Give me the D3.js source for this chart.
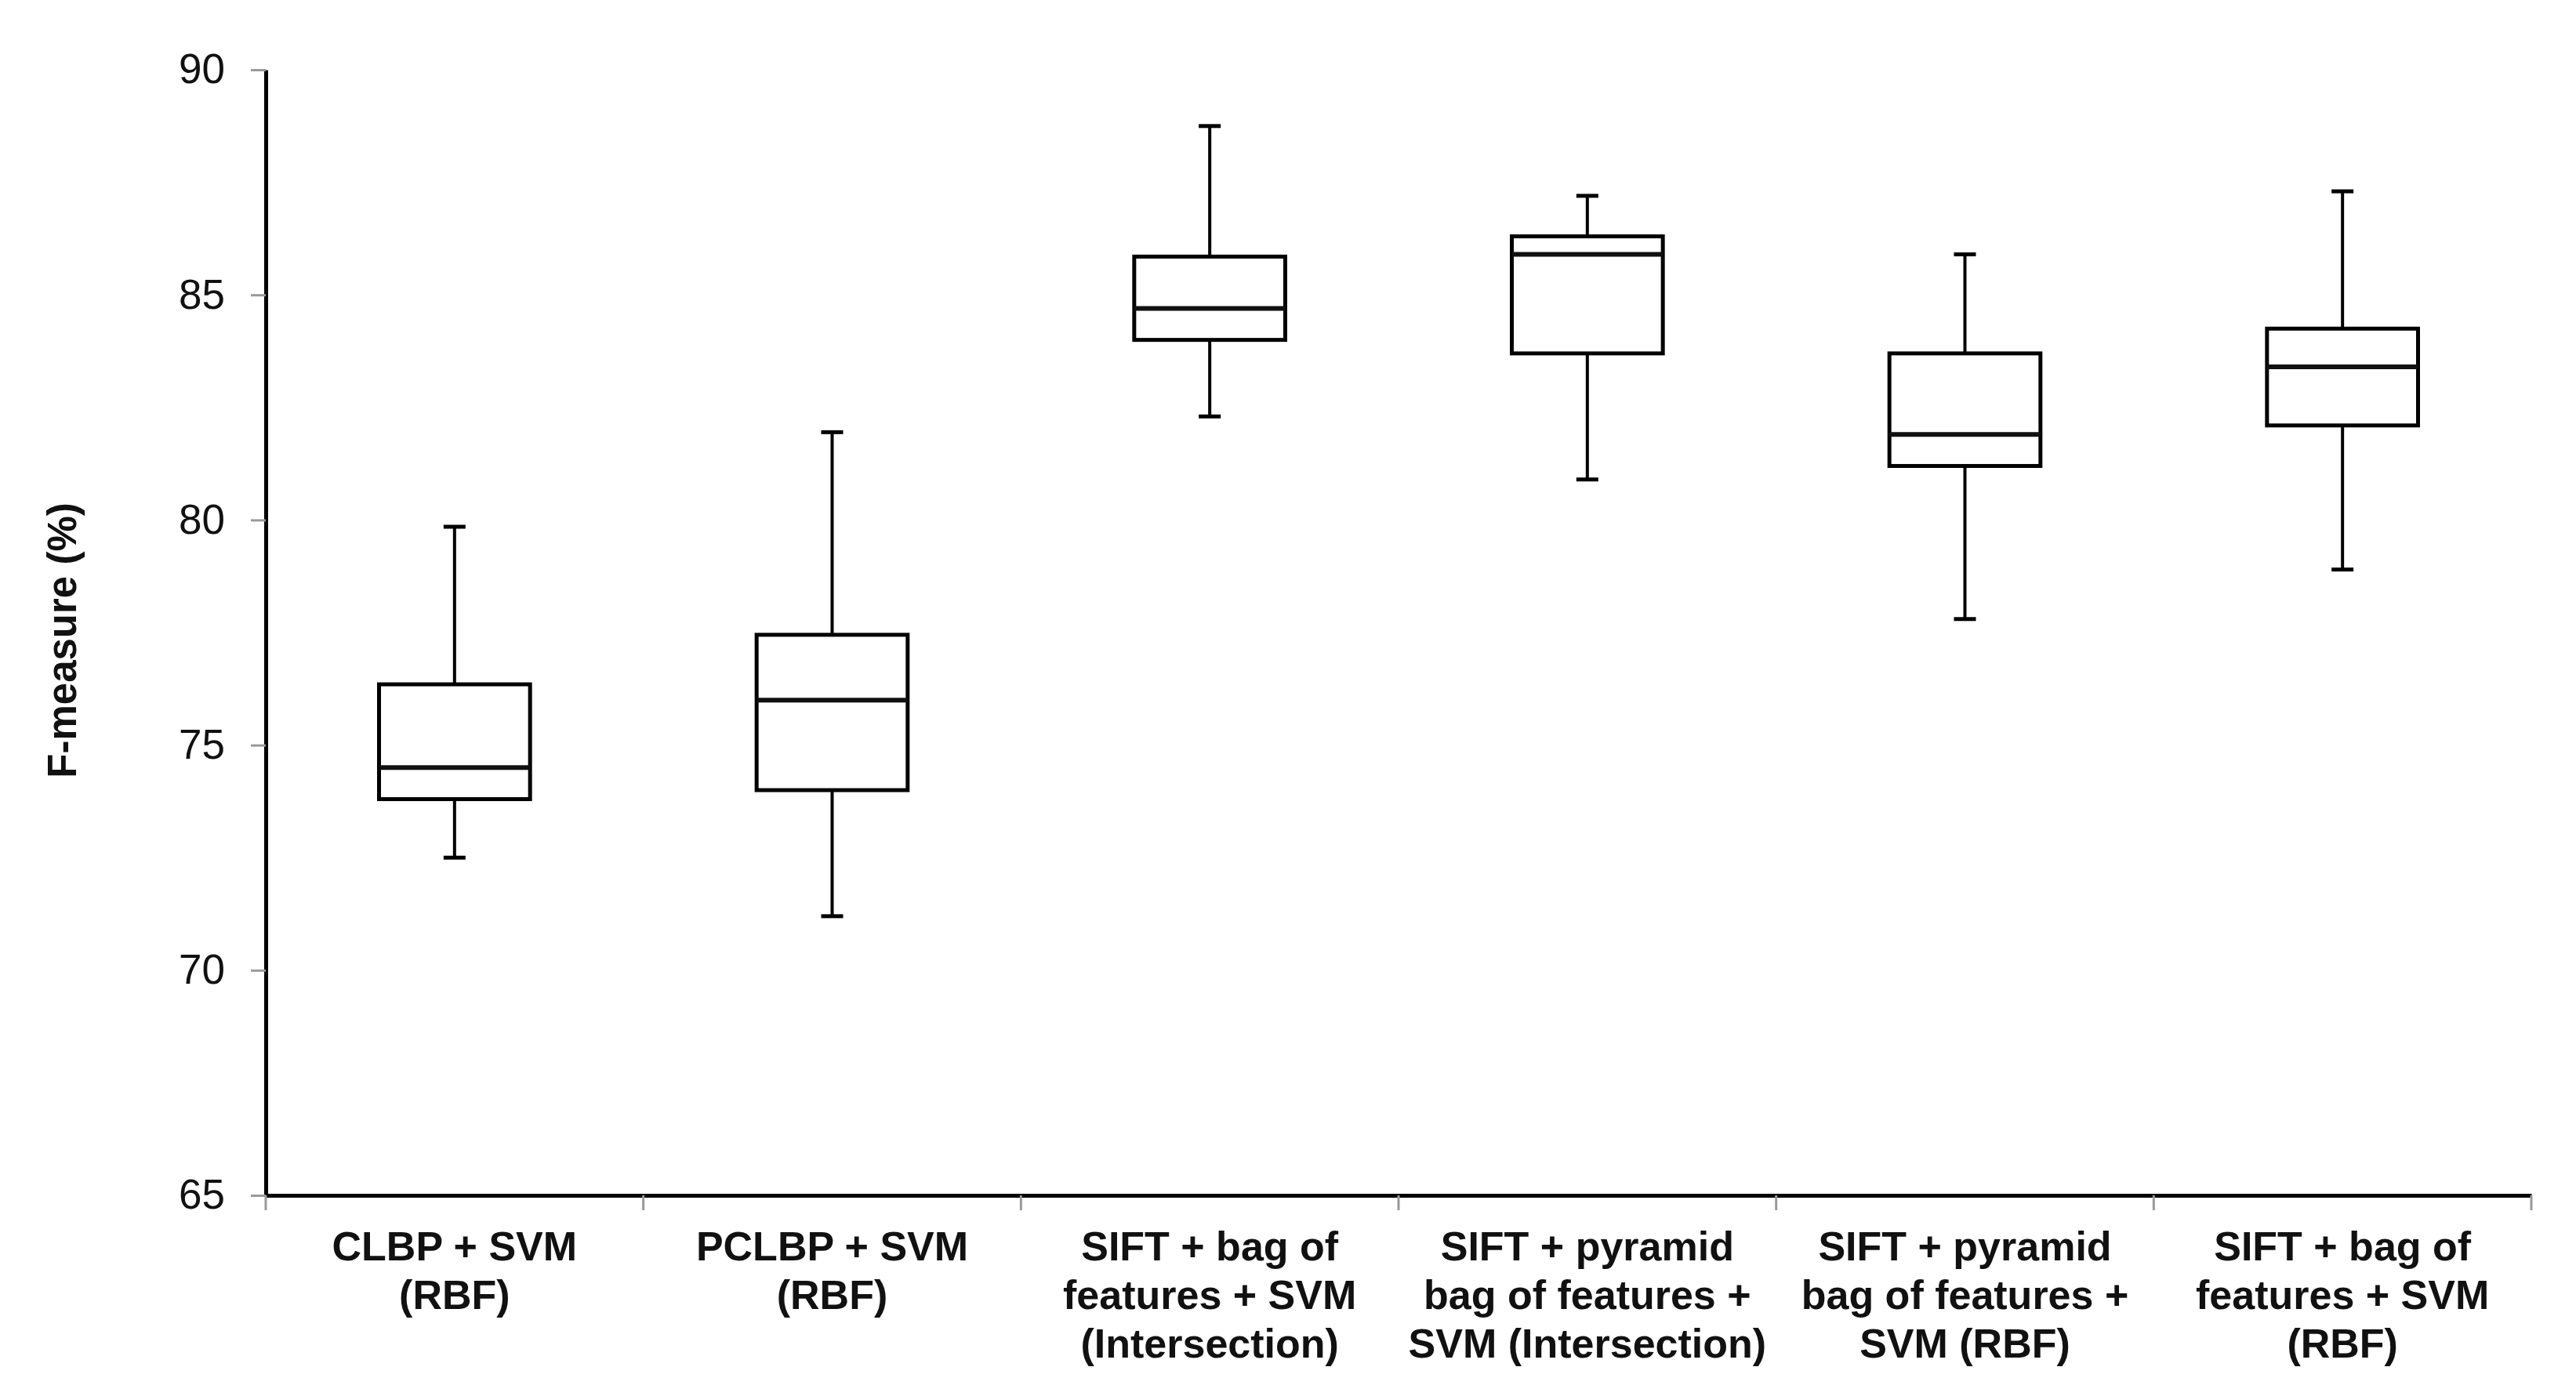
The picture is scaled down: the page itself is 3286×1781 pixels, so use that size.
<!DOCTYPE html>
<html>
<head>
<meta charset="utf-8">
<script src="https://cdn.jsdelivr.net/npm/d3@7"></script>
<style>
  html, body { margin: 0; padding: 0; background: #fff; }
  text { font-family: "Liberation Sans", Arial, sans-serif; fill: #111; }
</style>
</head>
<body>
<div id="chart"></div>
<script>
// categories with their label lines
const categories = ["c1", "c2", "c3", "c4", "c5", "c6"];
const labelLines = [
    ["CLBP + SVM", "(RBF)"],
    ["PCLBP + SVM", "(RBF)"],
    ["SIFT + bag of", "features + SVM", "(Intersection)"],
    ["SIFT + pyramid", "bag of features +", "SVM (Intersection)"],
    ["SIFT + pyramid", "bag of features +", "SVM (RBF)"],
    ["SIFT + bag of", "features + SVM", "(RBF)"]
];

// box statistics
const whiskerLow  = [72.5, 71.2, 82.3, 80.9, 77.8, 78.9];
const q1          = [73.8, 74.0, 84.0, 83.7, 81.2, 82.1];
const median      = [74.5, 76.0, 84.7, 85.9, 81.9, 83.4];
const q3          = [76.35, 77.45, 85.85, 86.3, 83.7, 84.25];
const whiskerHigh = [79.85, 81.95, 88.75, 87.2, 85.9, 87.3];

const yTicks = [65, 70, 75, 80, 85, 90];

const width = 3286, height = 1781;
const margin = { top: 89, right: 57, bottom: 256, left: 339 };

const svg = d3.select("#chart").append("svg")
    .attr("width", width)
    .attr("height", height);

const x = d3.scaleBand()
    .domain(categories)
    .range([margin.left, width - margin.right])
    .paddingInner(0)
    .paddingOuter(0);

const y = d3.scaleLinear()
    .domain([65, 90])
    .range([height - margin.bottom, margin.top]);

const boxes = categories.map((c, i) => ({
    cat: c,
    lo: whiskerLow[i], q1: q1[i], med: median[i], q3: q3[i], hi: whiskerHigh[i]
}));

// Y axis
const yAxis = svg.append("g")
    .attr("transform", `translate(${margin.left},0)`)
    .call(d3.axisLeft(y).tickValues(yTicks).tickSize(19).tickSizeOuter(0).tickPadding(33));
yAxis.select(".domain").attr("stroke", "#000").attr("stroke-width", 5);
yAxis.selectAll(".tick line").attr("stroke", "#999").attr("stroke-width", 3);
yAxis.selectAll(".tick text")
    .style("font-size", "53px")
    .attr("fill", "#111");

// X axis
const xAxis = svg.append("g")
    .attr("transform", `translate(0,${height - margin.bottom})`)
    .call(d3.axisBottom(x).tickSize(0).tickSizeOuter(0).tickFormat(""));
xAxis.select(".domain").attr("stroke", "#000").attr("stroke-width", 5);

// separator ticks between categories
const bounds = categories.map(c => x(c)).concat([x(categories[categories.length - 1]) + x.bandwidth()]);
svg.append("g").selectAll("line")
    .data(bounds)
    .join("line")
    .attr("x1", d => d).attr("x2", d => d)
    .attr("y1", y(65)).attr("y2", y(65) + 19)
    .attr("stroke", "#999")
    .attr("stroke-width", 3);

// category labels
const labelG = svg.append("g");
labelLines.forEach((lines, i) => {
    const cx = x(categories[i]) + x.bandwidth() / 2;
    const t = labelG.append("text")
        .attr("x", cx)
        .attr("y", y(65) + 83)
        .attr("text-anchor", "middle")
        .style("font-size", "52px")
        .style("font-weight", "bold");
    lines.forEach((ln, j) => {
        t.append("tspan")
            .attr("x", cx)
            .attr("dy", j === 0 ? 0 : 62)
            .text(ln);
    });
});

// Y axis title
svg.append("text")
    .attr("transform", `translate(97,${(y(65) + y(90)) / 2 + 10}) rotate(-90)`)
    .attr("text-anchor", "middle")
    .style("font-size", "51px")
    .style("font-weight", "bold")
    .text("F-measure (%)");

// boxes
const boxW = x.bandwidth() * 0.4;
const capW = 28;
const g = svg.append("g").selectAll("g")
    .data(boxes)
    .join("g")
    .attr("transform", d => `translate(${x(d.cat) + x.bandwidth() / 2},0)`);

g.append("line")
    .attr("x1", 0).attr("x2", 0)
    .attr("y1", d => y(d.hi)).attr("y2", d => y(d.q3))
    .attr("stroke", "#000").attr("stroke-width", 4);
g.append("line")
    .attr("x1", 0).attr("x2", 0)
    .attr("y1", d => y(d.q1)).attr("y2", d => y(d.lo))
    .attr("stroke", "#000").attr("stroke-width", 4);
g.append("line")
    .attr("x1", -capW / 2).attr("x2", capW / 2)
    .attr("y1", d => y(d.hi)).attr("y2", d => y(d.hi))
    .attr("stroke", "#000").attr("stroke-width", 5);
g.append("line")
    .attr("x1", -capW / 2).attr("x2", capW / 2)
    .attr("y1", d => y(d.lo)).attr("y2", d => y(d.lo))
    .attr("stroke", "#000").attr("stroke-width", 5);
g.append("rect")
    .attr("x", -boxW / 2)
    .attr("width", boxW)
    .attr("y", d => y(d.q3))
    .attr("height", d => y(d.q1) - y(d.q3))
    .attr("fill", "#fff")
    .attr("stroke", "#000")
    .attr("stroke-width", 5);
g.append("line")
    .attr("x1", -boxW / 2).attr("x2", boxW / 2)
    .attr("y1", d => y(d.med)).attr("y2", d => y(d.med))
    .attr("stroke", "#111").attr("stroke-width", 6);
</script>
</body>
</html>
